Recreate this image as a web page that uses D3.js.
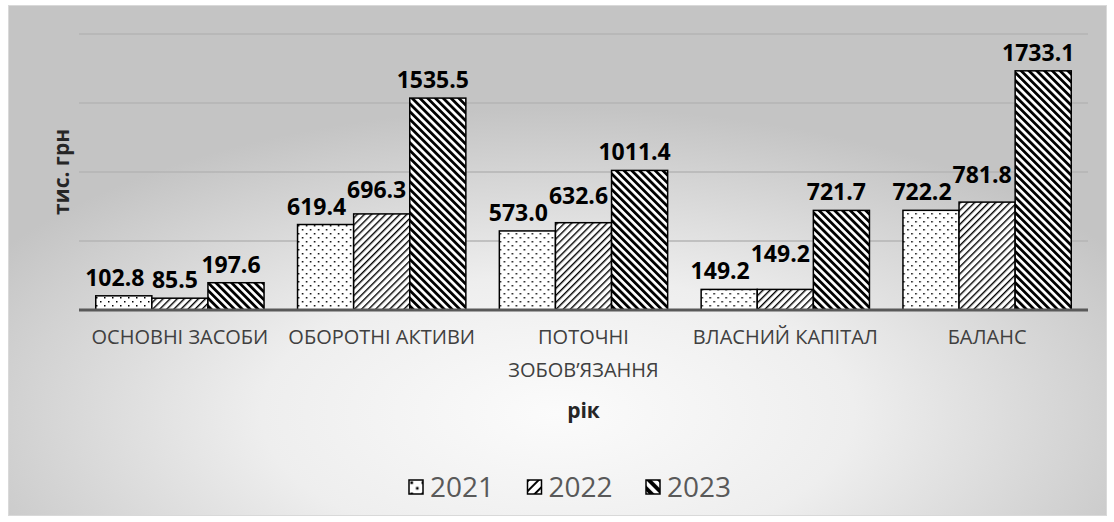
<!DOCTYPE html>
<meta charset="utf-8">
<style>
  body {
    margin: 0;
    background-color: white;
  }
  text {
    font-family: 'Open Sans', sans-serif;
  }
</style>
<script src="https://d3js.org/d3.v7.min.js"></script>
<body>
<div id="chart"></div>
<script>
  // data
  const categories = ["ОСНОВНІ ЗАСОБИ", "ОБОРОТНІ АКТИВИ", "ПОТОЧНІ ЗОБОВ’ЯЗАННЯ", "ВЛАСНИЙ КАПІТАЛ", "БАЛАНС"];
  const years = ["2021", "2022", "2023"];
  const values2021 = [102.8, 619.4, 573.0, 149.2, 722.2];
  const values2022 = [85.5, 696.3, 632.6, 149.2, 781.8];
  const values2023 = [197.6, 1535.5, 1011.4, 721.7, 1733.1];
  const yTicks = [0, 500, 1000, 1500, 2000];

  const series = [values2021, values2022, values2023];

  var width = 1114, height = 522;
  var margin = {top: 34, right: 26, bottom: 212, left: 79};

  var svg = d3.select("#chart")
    .append("svg")
      .attr("width", width)
      .attr("height", height);

  var defs = svg.append("defs");

  // background gradient
  var grad = defs.append("radialGradient")
    .attr("id", "bg")
    .attr("cx", "0.5").attr("cy", "0.8").attr("r", "0.6");
  grad.append("stop").attr("offset", "0%").attr("stop-color", "#fbfbfb");
  grad.append("stop").attr("offset", "45%").attr("stop-color", "#eeeeee");
  grad.append("stop").attr("offset", "100%").attr("stop-color", "#c4c4c4");

  // hatch patterns, one per year
  function makePatterns(prefix, scale, dot) {
    var p1 = defs.append("pattern").attr("id", prefix + "0")
      .attr("patternUnits", "userSpaceOnUse").attr("width", 8 * scale).attr("height", 8 * scale);
    p1.append("rect").attr("width", 8 * scale).attr("height", 8 * scale).attr("fill", "white");
    p1.append("rect").attr("x", 1 * scale).attr("y", 1 * scale).attr("width", dot).attr("height", dot).attr("fill", "black");
    p1.append("rect").attr("x", 5 * scale).attr("y", 5 * scale).attr("width", dot).attr("height", dot).attr("fill", "black");

    var p2 = defs.append("pattern").attr("id", prefix + "1")
      .attr("patternUnits", "userSpaceOnUse").attr("width", 5 * scale).attr("height", 5 * scale)
      .attr("patternTransform", "rotate(45)");
    p2.append("rect").attr("width", 5 * scale).attr("height", 5 * scale).attr("fill", "white");
    p2.append("rect").attr("width", 1.4 * scale).attr("height", 5 * scale).attr("fill", "black");

    var p3 = defs.append("pattern").attr("id", prefix + "2")
      .attr("patternUnits", "userSpaceOnUse").attr("width", 5.5 * scale).attr("height", 5.5 * scale)
      .attr("patternTransform", "rotate(-45)");
    p3.append("rect").attr("width", 5.5 * scale).attr("height", 5.5 * scale).attr("fill", "white");
    p3.append("rect").attr("width", 2.8 * scale).attr("height", 5.5 * scale).attr("fill", "black");
  }
  makePatterns("pat", 1, 1.5);
  makePatterns("leg", 1.4, 2.6);

  svg.append("rect")
    .attr("x", 8.5).attr("y", 5.5)
    .attr("width", 1098).attr("height", 510)
    .attr("fill", "url(#bg)")
    .attr("stroke", "#d9d9d9");

  var x0 = d3.scaleBand()
    .domain(categories)
    .range([margin.left, width - margin.right]);

  var x1 = d3.scaleBand()
    .domain(years)
    .range([x0.bandwidth() * 0.083, x0.bandwidth() * 0.917]);

  var y = d3.scaleLinear()
    .domain([0, 2000])
    .range([height - margin.bottom, margin.top]);

  // gridlines
  svg.append("g")
    .selectAll("line")
    .data(yTicks.slice(1))
    .enter()
    .append("line")
      .attr("x1", margin.left).attr("x2", width - margin.right)
      .attr("y1", function(d){ return y(d); })
      .attr("y2", function(d){ return y(d); })
      .attr("stroke", "#b4b4b4")
      .attr("stroke-width", 1.5);

  // bars
  var groups = svg.append("g")
    .selectAll("g")
    .data(categories)
    .enter()
    .append("g")
      .attr("transform", function(d){ return "translate(" + x0(d) + ",0)"; });

  groups.selectAll("rect")
    .data(function(d, i){ return years.map(function(yr, j){ return {year: yr, j: j, value: series[j][i]}; }); })
    .enter()
    .append("rect")
      .attr("x", function(d){ return x1(d.year); })
      .attr("y", function(d){ return y(d.value); })
      .attr("width", x1.bandwidth())
      .attr("height", function(d){ return y(0) - y(d.value); })
      .attr("fill", function(d){ return "url(#pat" + d.j + ")"; })
      .attr("stroke", "black")
      .attr("stroke-width", 1.5);

  // value labels: if a label runs into its left neighbour, lift it
  groups.each(function(cat, i) {
    var g = d3.select(this);
    var prev = null, prevBase = 0;
    years.forEach(function(yr, j) {
      var v = series[j][i];
      var cx = x1(yr) + x1.bandwidth() / 2 - (j == 0 ? 9 : 5);
      var base = y(v) - 10;
      var t = g.append("text")
        .attr("x", cx)
        .attr("y", base)
        .attr("text-anchor", "middle")
        .attr("font-size", "23px")
        .attr("font-weight", "bold")
        .attr("fill", "black")
        .text(v.toFixed(1));
      var bb = t.node().getBBox();
      if (prev && bb.x < prev.x + prev.width + 5 && base > prevBase - 14) {
        base = prevBase - 17;
        t.attr("y", base);
        bb = t.node().getBBox();
      }
      prev = bb;
      prevBase = base;
    });
  });

  // baseline
  svg.append("line")
    .attr("x1", margin.left).attr("x2", width - margin.right)
    .attr("y1", y(0)).attr("y2", y(0))
    .attr("stroke", "#595959")
    .attr("stroke-width", 3);

  // category labels
  var catLabels = svg.append("g")
    .selectAll("text")
    .data(categories)
    .enter()
    .append("text")
      .attr("x", function(d){ return x0(d) + x0.bandwidth() / 2; })
      .attr("y", y(0) + 34)
      .attr("text-anchor", "middle")
      .attr("font-size", "20px")
      .attr("fill", "#404040");
  catLabels.each(function(d) {
    var parts = d.length > 18 ? d.split(" ") : [d];
    var t = d3.select(this);
    parts.forEach(function(p, k) {
      t.append("tspan")
        .attr("x", t.attr("x"))
        .attr("dy", k == 0 ? 0 : 33)
        .text(p);
    });
  });

  // axis titles
  svg.append("text")
    .attr("x", (margin.left + width - margin.right) / 2)
    .attr("y", 418)
    .attr("text-anchor", "middle")
    .attr("font-size", "21px")
    .attr("font-weight", "bold")
    .attr("fill", "#262626")
    .text("рік");

  svg.append("text")
    .attr("transform", "translate(69," + (margin.top + (y(0) - margin.top) / 2) + ") rotate(-90)")
    .attr("text-anchor", "middle")
    .attr("font-size", "21px")
    .attr("font-weight", "bold")
    .attr("fill", "#262626")
    .text("тис. грн");

  // legend
  var legend = svg.append("g")
    .selectAll("g")
    .data(years)
    .enter()
    .append("g")
      .attr("transform", function(d, i){ return "translate(" + (409 + i * 118.5) + ",480)"; });
  legend.append("rect")
    .attr("width", 14).attr("height", 14)
    .attr("fill", function(d, i){ return "url(#leg" + i + ")"; })
    .attr("stroke", "black")
    .attr("stroke-width", 1.5);
  legend.append("text")
    .attr("x", 21)
    .attr("y", 17)
    .attr("font-size", "28px")
    .attr("fill", "#595959")
    .text(function(d){ return d; });
</script>
</body>
